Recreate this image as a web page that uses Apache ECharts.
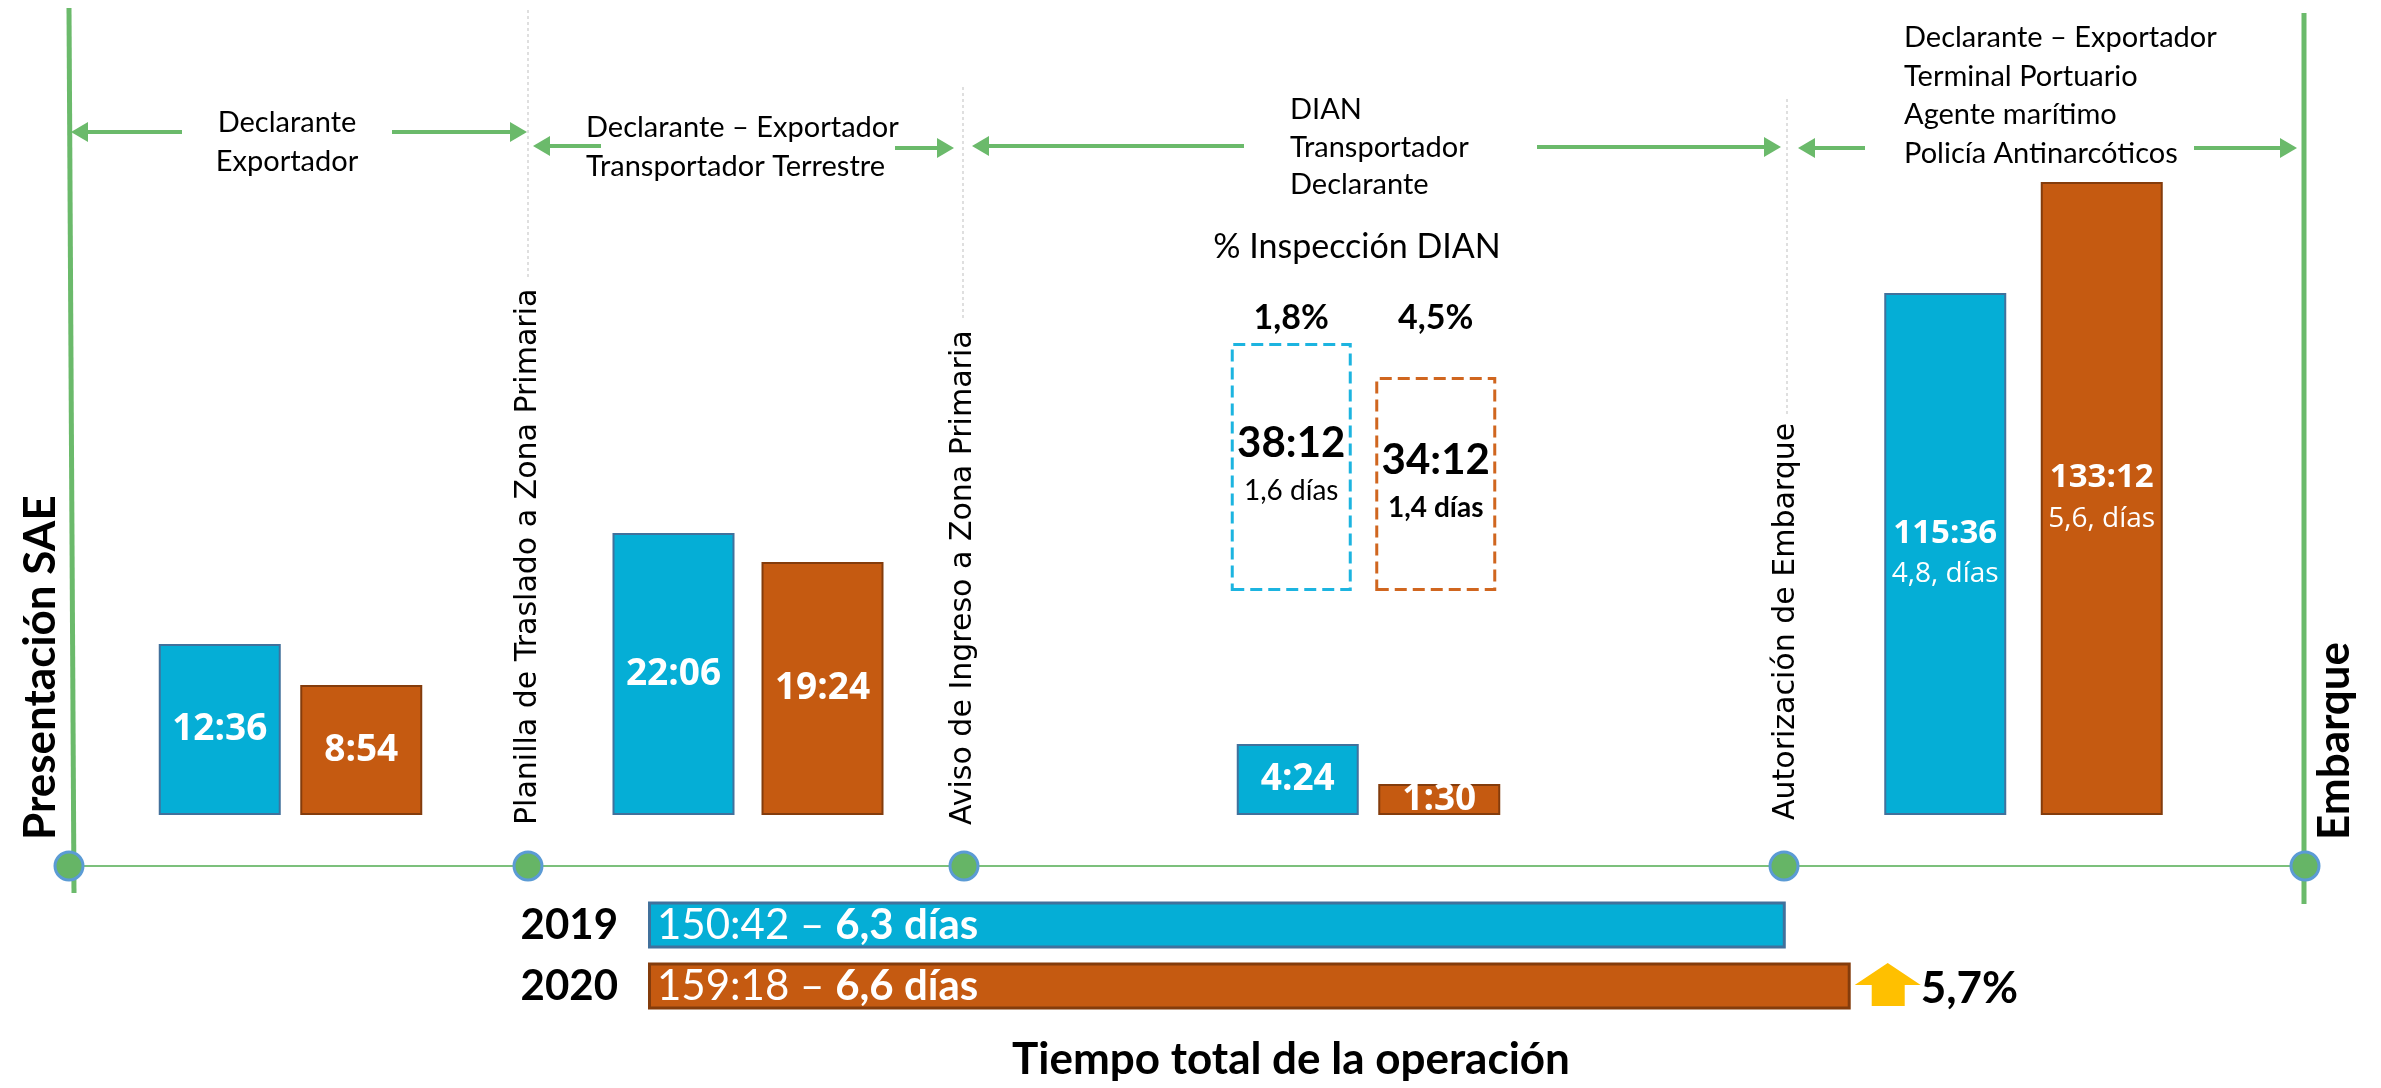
<!DOCTYPE html>
<html>
<head>
<meta charset="utf-8">
<script src="https://cdn.jsdelivr.net/npm/echarts@6/dist/echarts.min.js"></script>
<style>
html,body{margin:0;padding:0;background:#fff;}
#main{width:2381px;height:1088px;}
</style>
</head>
<body>
<div id="main"></div>
<script>
// ---- datos ----
const milestones=['Presentación SAE','Planilla de Traslado a Zona Primaria','Aviso de Ingreso a Zona Primaria','Autorización de Embarque','Embarque'];
const actors=[
	['Declarante','Exportador'],
	['Declarante – Exportador','Transportador Terrestre'],
	['DIAN','Transportador','Declarante'],
	['Declarante – Exportador','Terminal Portuario','Agente marítimo','Policía Antinarcóticos']
];
const years=['2019','2020'];
const stageTime2019=['12:36','22:06','4:24','115:36'];
const stageTime2020=['8:54','19:24','1:30','133:12'];
const stageDays2019=['','','','4,8, días'];
const stageDays2020=['','','','5,6, días'];
//alturas dibujadas (esquemáticas)
const stageHeight2019=[171,282,71,522];
const stageHeight2020=[130,253,31,633];
const inspectionTitle='% Inspección DIAN';
const inspectionPct=['1,8%','4,5%'];
const inspectionTime=['38:12','34:12'];
const inspectionDays=['1,6 días','1,4 días'];
const inspectionBase=[224,224];
const inspectionHeight=[248,214];
const totalHours=[150.7,159.3];
const totalTime=['150:42','159:18'];
const totalDays=['6,3 días','6,6 días'];
const totalChange='5,7%';
const totalTitle='Tiempo total de la operación';

// ---- estilo / layout ----
const BLUE='#05AED6',BLUE_B='#41719C',ORANGE='#C55A11',ORANGE_B='#843C0C';
const GREEN='#6BBA6B';
const FONT='Lato',FONT_V='DejaVu Sans',FONT_N='Open Sans';
const BASE_Y=815;
const stageGrids=[[149,283],[599,298],[1227,283],[1867,313]];
const boxGrid=[1219,289];
const milestoneX=[69,528,964,1784,2305];
const LINE_Y=866;

let chart=echarts.init(document.getElementById('main'));

let grids=[],xAxes=[],yAxes=[],series=[];
stageGrids.forEach(function(g,i){
	grids.push({left:g[0],width:g[1],top:BASE_Y-700,height:700});
	xAxes.push({type:'category',gridIndex:i,data:years,show:false});
	yAxes.push({type:'value',gridIndex:i,min:0,max:700,show:false});
	let big=i==3;
	function lbl(t,d){
		return d?'{t|'+t+'}\n{d|'+d+'}':'{t|'+t+'}';
	}
	series.push({
		type:'bar',xAxisIndex:i,yAxisIndex:i,barWidth:122,silent:true,
		itemStyle:{borderWidth:2},
		label:{show:true,position:'inside',
			rich:{
				t:{fontFamily:FONT_N,fontWeight:'bold',fontSize:big?33:37,color:'#fff',lineHeight:41},
				d:{fontFamily:FONT_N,fontSize:28,color:'#fff',lineHeight:41}
			}
		},
		data:[
			{value:stageHeight2019[i],itemStyle:{color:BLUE,borderColor:BLUE_B},label:{formatter:lbl(stageTime2019[i],stageDays2019[i])}},
			{value:stageHeight2020[i],itemStyle:{color:ORANGE,borderColor:ORANGE_B},label:{formatter:lbl(stageTime2020[i],stageDays2020[i])}}
		]
	});
});
//cajas de inspección
grids.push({left:boxGrid[0],width:boxGrid[1],top:BASE_Y-700,height:700});
xAxes.push({type:'category',gridIndex:4,data:years,show:false});
yAxes.push({type:'value',gridIndex:4,min:0,max:700,show:false});
series.push({type:'bar',xAxisIndex:4,yAxisIndex:4,stack:'insp',barWidth:121,silent:true,
	itemStyle:{color:'rgba(0,0,0,0)'},data:inspectionBase});
series.push({type:'bar',xAxisIndex:4,yAxisIndex:4,stack:'insp',barWidth:121,silent:true,
	itemStyle:{color:'rgba(0,0,0,0)',borderWidth:3,borderType:'dashed'},
	label:{show:true,position:'inside',
		rich:{
			t:{fontFamily:FONT,fontWeight:'bold',fontSize:42,color:'#000',lineHeight:47},
			d:{fontFamily:FONT,fontSize:28,color:'#000',lineHeight:47},
			db:{fontFamily:FONT,fontWeight:'bold',fontSize:28,color:'#000',lineHeight:47}
		}
	},
	data:[
		{value:inspectionHeight[0],itemStyle:{borderColor:'#1CB4E0'},label:{formatter:'{t|'+inspectionTime[0]+'}\n{d|'+inspectionDays[0]+'}'}},
		{value:inspectionHeight[1],itemStyle:{borderColor:'#D0661F'},label:{formatter:'{t|'+inspectionTime[1]+'}\n{db|'+inspectionDays[1]+'}'}}
	]
});
//tiempo total
grids.push({left:648,width:1510,top:894.5,height:122});
xAxes.push({type:'value',gridIndex:5,min:0,max:200,show:false});
yAxes.push({type:'category',gridIndex:5,data:years,inverse:true,
	axisLine:{show:false},axisTick:{show:false},splitLine:{show:false},
	axisLabel:{fontFamily:FONT,fontWeight:'bold',fontSize:42,color:'#000',margin:30}});
series.push({type:'bar',xAxisIndex:5,yAxisIndex:5,barWidth:47,silent:true,
	itemStyle:{borderWidth:3},
	label:{show:true,position:'insideLeft',distance:9,
		formatter:function(p){
			return '{r|'+totalTime[p.dataIndex]+' – }{b|'+totalDays[p.dataIndex]+'}';
		},
		rich:{
			r:{fontFamily:FONT,fontSize:42,color:'#fff'},
			b:{fontFamily:FONT,fontWeight:'bold',fontSize:42,color:'#fff'}
		}
	},
	data:[
		{value:totalHours[0],itemStyle:{color:BLUE,borderColor:BLUE_B}},
		{value:totalHours[1],itemStyle:{color:ORANGE,borderColor:ORANGE_B}}
	]
});

chart.setOption({
	backgroundColor:'#fff',
	animation:false,
	grid:grids,xAxis:xAxes,yAxis:yAxes,series:series
});

// ---- elementos gráficos ----
function txt(x,y,s,o){
	o=o||{};
	return {type:'text',x:x,y:y,rotation:o.rot||0,z:10,
		style:{text:s,fill:o.color||'#000',
			fontFamily:o.font||FONT,fontSize:o.size||29,fontWeight:o.bold?'bold':'normal',
			align:o.align||'center',textAlign:o.align||'center',
			verticalAlign:'middle',textVerticalAlign:'middle'}};
}
function arrow(x1,x2,y){
	let dir=x2>x1?1:-1,hl=17,hw=10;
	return [
		{type:'line',shape:{x1:x1,y1:y,x2:x2-dir*hl,y2:y},style:{stroke:GREEN,lineWidth:4}},
		{type:'polygon',shape:{points:[[x2,y],[x2-dir*hl,y-hw],[x2-dir*hl,y+hw]]},style:{fill:GREEN}}
	];
}
let els=[];
//líneas verticales punteadas
[[528,10,278],[963,87,318],[1787,99,416]].forEach(function(d){
	els.push({type:'line',shape:{x1:d[0],y1:d[1],x2:d[0],y2:d[2]},style:{stroke:'#D5D5D5',lineWidth:1.5,lineDash:[3,3]}});
});
//eje del tiempo
els.push({type:'line',shape:{x1:69,y1:8,x2:74,y2:893},style:{stroke:GREEN,lineWidth:5}});
els.push({type:'line',shape:{x1:2304,y1:13,x2:2304,y2:904},style:{stroke:GREEN,lineWidth:5}});
els.push({type:'line',shape:{x1:69,y1:LINE_Y,x2:2305,y2:LINE_Y},style:{stroke:'#7CC07C',lineWidth:2}});
milestoneX.forEach(function(x){
	els.push({type:'circle',shape:{cx:x,cy:LINE_Y,r:14},style:{fill:'#66B566',stroke:'#5B9BD5',lineWidth:3}});
});
//flechas
[[182,71,132],[392,527,132],[601,533,146],[895,954,148],[1244,972,146],[1537,1781,147],[1865,1798,148],[2194,2297,148]].forEach(function(a){
	els=els.concat(arrow(a[0],a[1],a[2]));
});
//actores
let actorPos=[[287,123,'center'],[586,128,'left'],[1290,110,'left'],[1904,38,'left']];
let actorStep=[39,39,37.5,38.5];
actors.forEach(function(list,i){
	list.forEach(function(s,j){
		els.push(txt(actorPos[i][0],actorPos[i][1]+j*actorStep[i],s,{align:actorPos[i][2]}));
	});
});
//hitos verticales
els.push(txt(41,840,milestones[0],{rot:Math.PI/2,align:'left',bold:true,size:44}));
els.push(txt(528,825,milestones[1],{rot:Math.PI/2,align:'left',font:FONT_V,size:30}));
els.push(txt(963,825,milestones[2],{rot:Math.PI/2,align:'left',font:FONT_V,size:30}));
els.push(txt(1786,820,milestones[3],{rot:Math.PI/2,align:'left',font:FONT_V,size:30}));
els.push(txt(2335,840,milestones[4],{rot:Math.PI/2,align:'left',bold:true,size:44}));
//inspección
els.push(txt(1357,247,inspectionTitle,{size:34}));
els.push(txt(boxGrid[0]+boxGrid[1]/4,318,inspectionPct[0],{size:34,bold:true}));
els.push(txt(boxGrid[0]+boxGrid[1]*3/4,318,inspectionPct[1],{size:34,bold:true}));
//variación total
let end=chart.convertToPixel({xAxisIndex:5,yAxisIndex:5},[totalHours[1],years[1]]);
let ax=end[0]+4,ay=end[1];
els.push({type:'polygon',shape:{points:[[ax+33,ay-23],[ax+66,ay-1],[ax+50,ay-1],[ax+50,ay+20],[ax+17,ay+20],[ax+17,ay-1],[ax,ay-1]]},style:{fill:'#FFC000'}});
els.push(txt(ax+66,ay+3,totalChange,{align:'left',size:44,bold:true}));
els.push(txt(1291,1060,totalTitle,{size:44,bold:true}));

chart.setOption({graphic:{elements:els}});
</script>
</body>
</html>
